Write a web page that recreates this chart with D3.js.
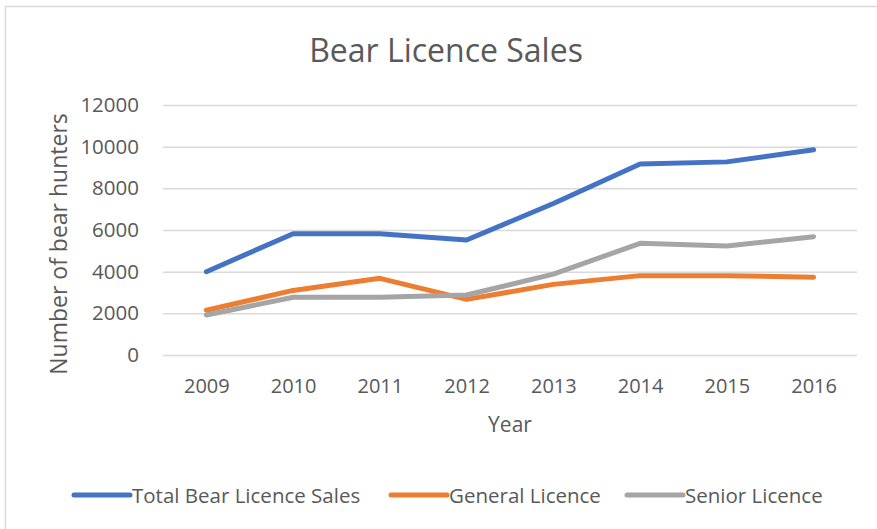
<!DOCTYPE html>
<html>
<head>
<meta charset="utf-8">
<script src="https://cdn.jsdelivr.net/npm/d3@7"></script>
<style>
  body { margin: 0; background: #fff; }
  svg { display: block; font-family: "Open Sans", sans-serif; }
</style>
</head>
<body>
<svg id="chart"></svg>
<script>
// data
const years = ["2009", "2010", "2011", "2012", "2013", "2014", "2015", "2016"]
const totalSales = [4000, 5820, 5820, 5520, 7270, 9170, 9270, 9850]
const generalSales = [2150, 3100, 3680, 2670, 3390, 3810, 3810, 3730]
const seniorSales = [1920, 2770, 2770, 2880, 3880, 5360, 5230, 5680]
const yTicks = [0, 2000, 4000, 6000, 8000, 10000, 12000]

const seriesNames = ["Total Bear Licence Sales", "General Licence", "Senior Licence"]
const seriesValues = [totalSales, generalSales, seniorSales]
const seriesColors = ["#4472C4", "#ED7D31", "#A5A5A5"]

const width = 877, height = 529
const plot = { left: 163, right: 857, top: 105, bottom: 355 }

const svg = d3.select("#chart").attr("width", width).attr("height", height)

// outer chart border (right and bottom run off the picture)
svg.append("rect")
  .attr("x", 5.5).attr("y", 6.5)
  .attr("width", width + 10).attr("height", height + 10)
  .attr("fill", "none").attr("stroke", "#d9d9d9").attr("stroke-width", 1.5)

const x = d3.scalePoint().domain(years).range([plot.left, plot.right]).padding(0.5)
const y = d3.scaleLinear().domain([0, 12000]).range([plot.bottom, plot.top])

// gridlines + y labels
const yAxis = d3.axisLeft(y).tickValues(yTicks).tickFormat(d3.format("d"))
  .tickSize(-(plot.right - plot.left)).tickPadding(24)
const yG = svg.append("g").attr("transform", `translate(${plot.left},0)`).call(yAxis)
yG.select(".domain").remove()
yG.selectAll(".tick line").attr("stroke", "#d9d9d9").attr("stroke-width", 1.5)
yG.selectAll(".tick text").attr("fill", "#595959").style("font-size", "20.5px")
  .style("font-family", "'Open Sans', sans-serif")

// x labels
const xAxis = d3.axisBottom(x).tickSize(0).tickPadding(24)
const xG = svg.append("g").attr("transform", `translate(0,${plot.bottom})`).call(xAxis)
xG.select(".domain").remove()
xG.selectAll(".tick text").attr("fill", "#595959").style("font-size", "20px")
  .style("font-family", "'Open Sans', sans-serif")

// lines
const line = d3.line().x((d, i) => x(years[i])).y(d => y(d))
svg.append("g").selectAll("path").data(seriesValues).join("path")
  .attr("d", line)
  .attr("fill", "none")
  .attr("stroke", (d, i) => seriesColors[i])
  .attr("stroke-width", 5)
  .attr("stroke-linejoin", "round")
  .attr("stroke-linecap", "round")

// title
svg.append("text")
  .attr("x", 446).attr("y", 62)
  .attr("text-anchor", "middle")
  .attr("fill", "#595959")
  .style("font-size", "32px")
  .text("Bear Licence Sales")

// axis titles
svg.append("text")
  .attr("x", (plot.left + plot.right) / 2).attr("y", 432)
  .attr("text-anchor", "middle")
  .attr("fill", "#595959")
  .style("font-size", "21px")
  .text("Year")

svg.append("text")
  .attr("transform", `translate(67,244) rotate(-90)`)
  .attr("text-anchor", "middle")
  .attr("fill", "#595959")
  .style("font-size", "23px")
  .text("Number of bear hunters")

// legend
const legendX = [74, 391, 627]
const legend = svg.append("g").selectAll("g").data(seriesNames).join("g")
  .attr("transform", (d, i) => `translate(${legendX[i]},495)`)
legend.append("line")
  .attr("x1", 0).attr("x2", 56).attr("y1", 0).attr("y2", 0)
  .attr("stroke", (d, i) => seriesColors[i])
  .attr("stroke-width", 5)
  .attr("stroke-linecap", "round")
legend.append("text")
  .attr("x", 58).attr("y", 8)
  .attr("fill", "#595959")
  .style("font-size", "20.5px")
  .text(d => d)
</script>
</body>
</html>
